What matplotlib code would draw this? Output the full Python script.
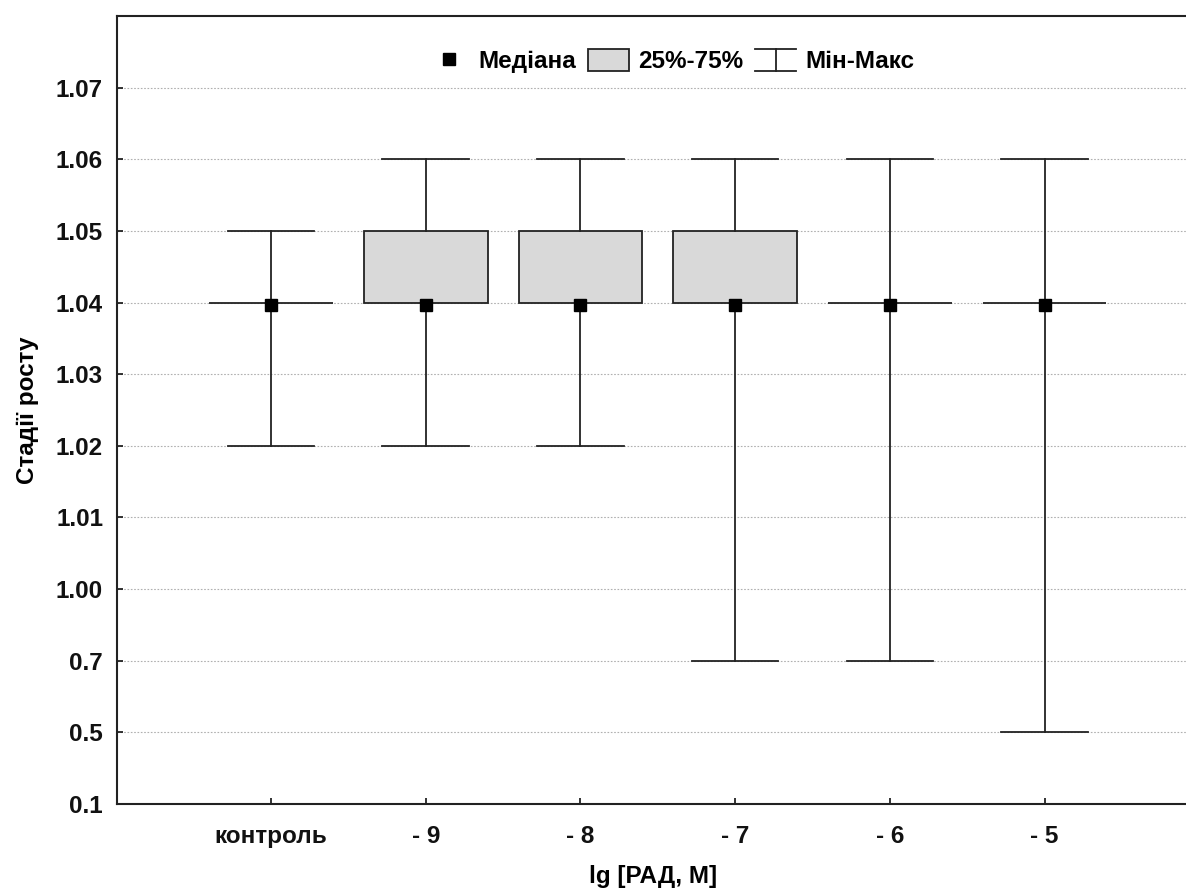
import numpy as np
import matplotlib
matplotlib.use("Agg")
import matplotlib.pyplot as plt
from matplotlib.lines import Line2D
from matplotlib.patches import Patch
from matplotlib.legend_handler import HandlerBase

plt.rcParams['font.family'] = ['Liberation Sans', 'DejaVu Sans']
plt.rcParams['font.weight'] = 'bold'

# ---- data ----
categories = ['контроль', '- 9', '- 8', '- 7', '- 6', '- 5']
medians = [1.0397, 1.0397, 1.0397, 1.0397, 1.0397, 1.0397]
q1 = [1.04, 1.04, 1.04, 1.04, 1.04, 1.04]
q3 = [1.04, 1.05, 1.05, 1.05, 1.04, 1.04]
mins = [1.02, 1.02, 1.02, 0.7, 0.7, 0.5]
maxs = [1.05, 1.06, 1.06, 1.06, 1.06, 1.06]
y_ticks = [0.1, 0.5, 0.7, 1.00, 1.01, 1.02, 1.03, 1.04, 1.05, 1.06, 1.07]
y_tick_labels = ['0.1', '0.5', '0.7', '1.00', '1.01', '1.02', '1.03', '1.04', '1.05', '1.06', '1.07']
y_top = 1.08

# equally spaced (ordinal) y axis
scale_vals = np.array(y_ticks + [y_top])
scale_idx = np.arange(len(scale_vals), dtype=float)

def fwd(v):
    return np.interp(v, scale_vals, scale_idx)

def inv(p):
    return np.interp(p, scale_idx, scale_vals)

FS = 17.5

fig = plt.figure(figsize=(11.86, 8.91), dpi=100)
ax = fig.add_axes([117/1186, 87/891, 1 - 117/1186 + 0.002, (804 - 16)/891])
ax.set_yscale('function', functions=(fwd, inv))

pos = np.arange(len(categories))
stats = []
for i in range(len(categories)):
    stats.append(dict(med=medians[i], q1=q1[i], q3=q3[i],
                      whislo=mins[i], whishi=maxs[i], fliers=[]))

lw = 1.3
ax.bxp(stats, positions=pos, widths=0.8, capwidths=0.56, patch_artist=True,
       showfliers=False,
       boxprops=dict(facecolor='#d9d9d9', edgecolor='#222222', linewidth=lw),
       whiskerprops=dict(color='#222222', linewidth=lw),
       capprops=dict(color='#222222', linewidth=lw),
       medianprops=dict(linewidth=0))
ax.plot(pos, medians, linestyle='none', marker='s', markersize=9.3,
        color='black', zorder=5)

ax.set_xlim(-0.996, 5.93)
ax.set_ylim(0.1, y_top)
ax.set_yticks(y_ticks)
ax.set_yticklabels(y_tick_labels)
ax.set_xticks(pos)
ax.set_xticklabels(categories)
ax.yaxis.grid(True, linestyle=(0, (1.5, 1.5)), color='#b0b0b0', linewidth=0.8)
ax.set_axisbelow(True)

ax.tick_params(axis='both', direction='in', length=4, width=1.2, labelsize=FS,
               colors='#111111')
ax.tick_params(axis='y', pad=10)
ax.tick_params(axis='x', pad=15)
for s in ['left', 'bottom', 'top']:
    ax.spines[s].set_linewidth(1.5)
    ax.spines[s].set_color('#222222')
ax.spines['right'].set_visible(False)

ax.set_xlabel('lg [РАД, М]', fontsize=FS, fontweight='bold', labelpad=12)
ax.set_ylabel('Стадії росту', fontsize=FS, fontweight='bold', labelpad=12)


class HandlerIBeam(HandlerBase):
    def create_artists(self, legend, orig_handle, xdescent, ydescent,
                       width, height, fontsize, trans):
        x0, x1 = -xdescent, -xdescent + width
        y0, y1 = -ydescent, -ydescent + height
        xm = (x0 + x1) / 2
        arts = [Line2D([x0, x1], [y1, y1]), Line2D([x0, x1], [y0, y0]),
                Line2D([xm, xm], [y0, y1])]
        for a in arts:
            a.set_color('#222222')
            a.set_linewidth(1.3)
            a.set_transform(trans)
        return arts


class IBeam:
    pass


h_med = Line2D([], [], linestyle='none', marker='s', markersize=9.3, color='black')
h_box = Patch(facecolor='#d9d9d9', edgecolor='#222222', linewidth=1.3)
h_rng = IBeam()
leg = ax.legend([h_med, h_box, h_rng], ['Медіана', '25%-75%', 'Мін-Макс'],
                handler_map={IBeam: HandlerIBeam()},
                loc='center', bbox_to_anchor=((670 - 117) / (1186 - 117), (804 - 61) / 788),
                ncol=3, frameon=False, handlelength=1.67,
                handleheight=1.0, columnspacing=0.5, handletextpad=0.38,
                borderpad=0.2, prop=dict(weight='bold', size=FS))

fig.savefig('out.png', dpi=100)
